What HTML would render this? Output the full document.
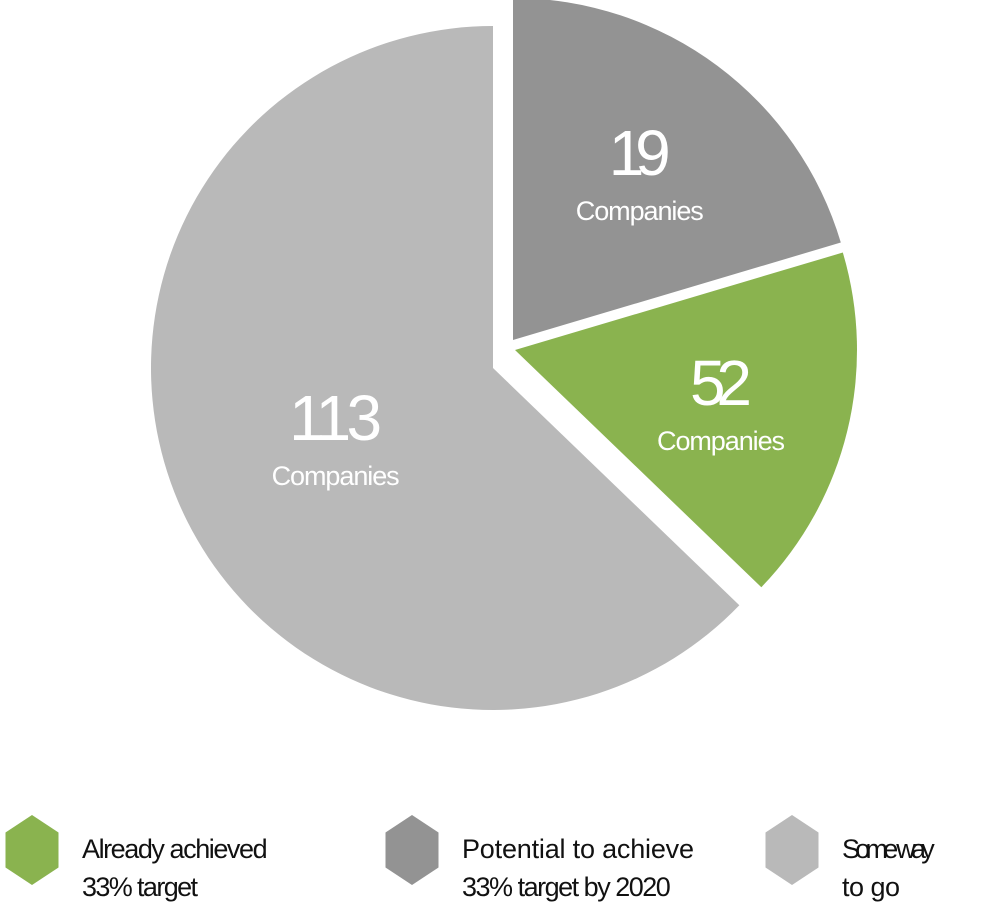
<!DOCTYPE html>
<html><head><meta charset="utf-8"><style>
html,body{margin:0;padding:0;background:#fff;}
svg{display:block;font-family:"Liberation Sans",sans-serif;}
</style></head><body>
<svg width="1007" height="909" viewBox="0 0 1007 909">
<g id="slices"></g>
<g id="legend"></g>
</svg>
<script>
const categories = ["Potential to achieve 33% target by 2020", "Already achieved 33% target", "Some way to go"];
const shares = [20.4, 16.8, 62.8];
const counts = ["19", "52", "113"];
const colors = ["#939393", "#8ab34f", "#b9b9b9"];
const offsets = [[20,-28],[22,-18],[0,0]];
const cx = 493, cy = 368, r = 342;
const NS = "http://www.w3.org/2000/svg";
const g = document.getElementById("slices");
const total = shares.reduce((a,b)=>a+b,0);
let a0 = 0;
function pt(x,y,ang,rr){ return [x + rr*Math.sin(ang), y - rr*Math.cos(ang)]; }
shares.forEach((v,i)=>{
  const a1 = a0 + v/total*2*Math.PI;
  const x = cx + offsets[i][0], y = cy + offsets[i][1];
  const p0 = pt(x,y,a0,r), p1 = pt(x,y,a1,r);
  const large = (a1-a0) > Math.PI ? 1 : 0;
  const path = document.createElementNS(NS,"path");
  path.setAttribute("d",`M${x},${y} L${p0[0]},${p0[1]} A${r},${r} 0 ${large} 1 ${p1[0]},${p1[1]} Z`);
  path.setAttribute("fill",colors[i]);
  
  
  g.appendChild(path);
  const mid = (a0+a1)/2;
  const lr = i===2 ? 0.50*r : 0.62*r;
  const lp = pt(x,y,mid,lr);
  const t1 = document.createElementNS(NS,"text");
  t1.setAttribute("x",lp[0]); t1.setAttribute("y",lp[1]+5);
  t1.setAttribute("text-anchor","middle"); t1.setAttribute("fill","#fff");
  t1.setAttribute("font-size","64"); t1.setAttribute("textLength", counts[i].length*31);
  t1.textContent = counts[i];
  
  
  g.appendChild(t1);
  const t2 = document.createElementNS(NS,"text");
  t2.setAttribute("x",lp[0]); t2.setAttribute("y",lp[1]+50);
  t2.setAttribute("text-anchor","middle"); t2.setAttribute("fill","#fff");
  t2.setAttribute("font-size","27"); t2.setAttribute("textLength","128");
  t2.textContent = "Companies";
  
  
  g.appendChild(t2);
  a0 = a1;
});
const legendItems = [
  {x:2, color:"#8ab34f", l1:"Already achieved", l2:"33% target"},
  {x:382, color:"#939393", l1:"Potential to achieve", l2:"33% target by 2020"},
  {x:762, color:"#b9b9b9", l1:"Some way", l2:"to go"}
];
const lg = document.getElementById("legend");
legendItems.forEach(it=>{
  const gi = document.createElementNS(NS,"g");
  
  
  const hx = it.x + 30, hy = 850;
  const hex = document.createElementNS(NS,"polygon");
  const pts = [];
  for(let k=0;k<6;k++){ const an = Math.PI/3*k; pts.push((hx+34*Math.sin(an)*0.9)+","+(hy-35*Math.cos(an))); }
  hex.setAttribute("points",pts.join(" "));
  hex.setAttribute("fill",it.color);
  
  
  gi.appendChild(hex);
  [it.l1,it.l2].forEach((s,j)=>{
    const t = document.createElementNS(NS,"text");
    t.setAttribute("x", it.x+80); t.setAttribute("y", 858 + j*38);
    t.setAttribute("font-size","27"); t.setAttribute("fill","#111");
    t.setAttribute("textLength", s.length*11.6);
    t.textContent = s;
    
    
    gi.appendChild(t);
  });
  lg.appendChild(gi);
});
</script>
</body></html>
